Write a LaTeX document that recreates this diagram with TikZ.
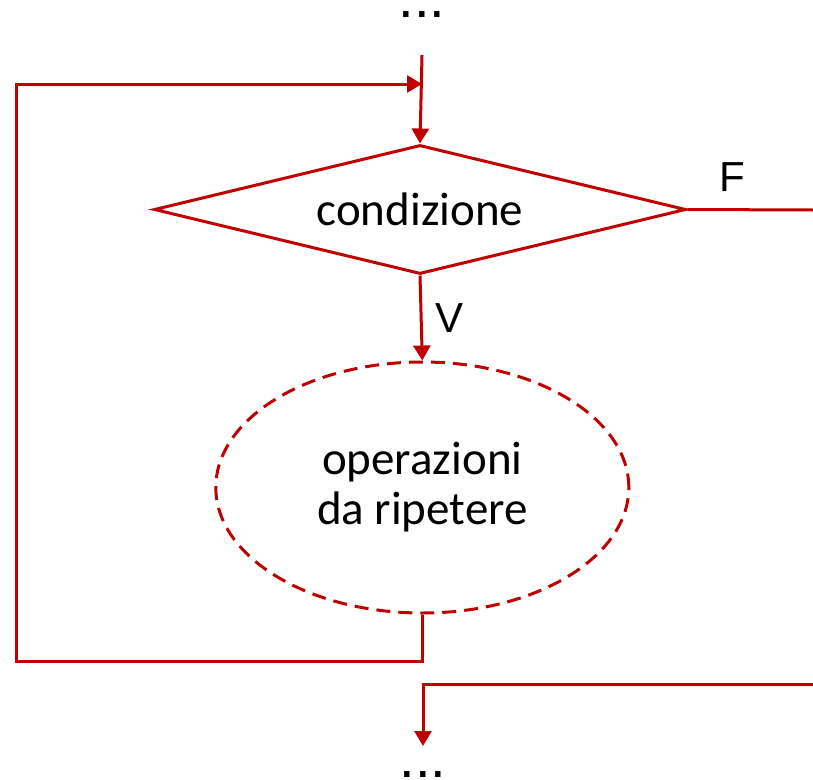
\documentclass[tikz,border=0pt]{standalone}
\usepackage{fontspec}
\setmainfont{Carlito}
\newfontfamily\arialfont{Liberation Sans}
\usetikzlibrary{shapes.geometric,arrows.meta}
\definecolor{flowred}{HTML}{C00000}

\begin{document}
\begin{tikzpicture}[x=1pt, y=-1pt,
        line/.style={draw=flowred, line width=3pt},
        flow/.style={line, -{Triangle[length=15pt, width=17pt]}},
        decision/.style={diamond, line, inner sep=0pt, aspect=4.12,
            minimum width=532pt, minimum height=129pt,
            font=\fontsize{47}{50}\selectfont},
        block/.style={ellipse, line, dash pattern=on 14pt off 8pt, inner sep=0pt,
            minimum width=413pt, minimum height=251pt, align=center,
            font=\fontsize{47}{50}\selectfont},
        letter/.style={inner sep=0pt, font=\arialfont\fontsize{42}{42}\selectfont},
        dots/.style={inner sep=0pt, anchor=base, font=\arialfont\fontsize{56}{56}\selectfont}]
        \useasboundingbox (0,0) rectangle (813,779);

        % Define Points
        \coordinate (in) at (422,55);
        \coordinate (join) at (422,84);
        \coordinate (back) at (16,661);
        \coordinate (exitR) at (813,210);
        \coordinate (exitB) at (813,684);
        \coordinate (out) at (423,746);

        % Blocks
        \node[dots] (dtop) at (422,17) {...};
        \node[decision] (cond) at (420,209.5) {condizione};
        \node[block] (ops) at (422.3,487.5) {operazioni\\da ripetere};
        \node[dots] (dbot) at (423,777) {...};

        % Loop
        \draw[flow] (in) -- (cond.north);
        \draw[flow] (cond.south) -- (ops.north) node[midway, letter, anchor=west, xshift=13pt] {V};
        \draw[flow] (ops.south) |- (back) |- (join);

        % Exit
        \draw[line] (cond.east) -- (exitR) node[pos=0.36, letter, anchor=south, yshift=17pt] {F};
        \draw[flow] (exitB) -| (out);
\end{tikzpicture}
\end{document}
